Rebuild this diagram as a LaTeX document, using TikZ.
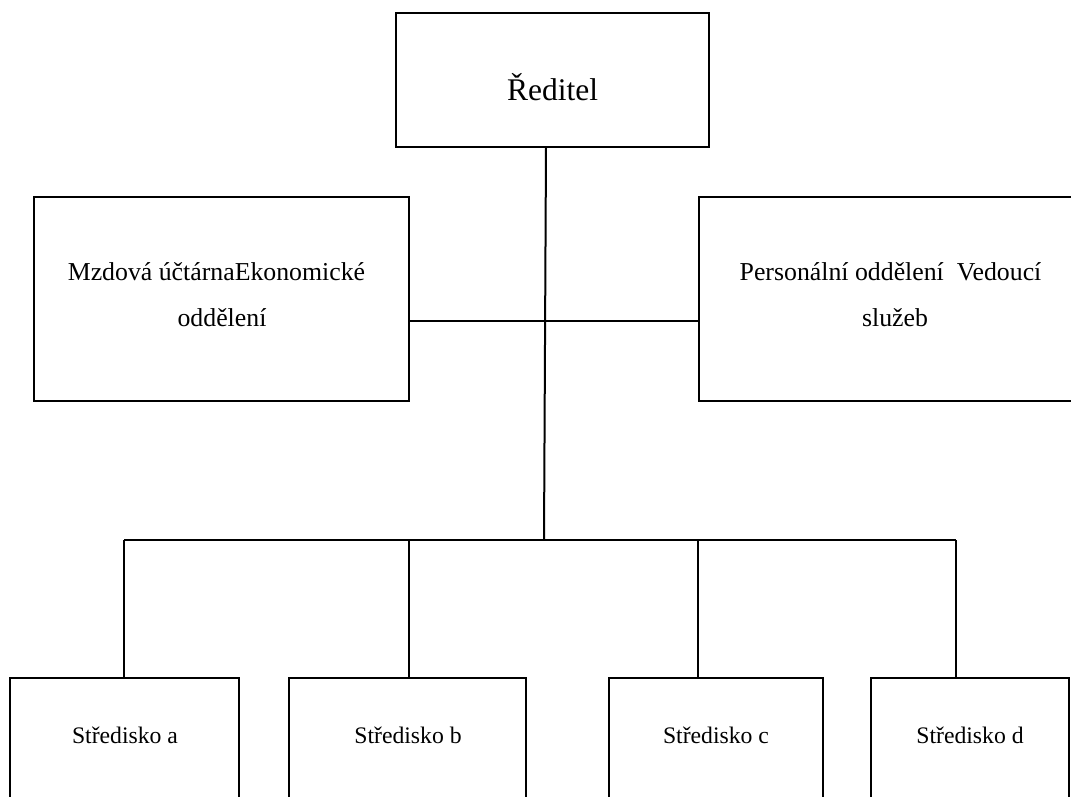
\documentclass[tikz,border=0pt]{standalone}
\usepackage{fontspec}
\setmainfont{Liberation Serif}
\begin{document}
\begin{tikzpicture}[x=1pt,y=-1pt,
  box/.style={draw=black, line width=2pt, fill=none, inner sep=0pt, outer sep=0pt},
  conn/.style={draw=black, line width=2pt},
  ftop/.style={font=\fontsize{31.5}{38}\selectfont, anchor=base, inner sep=0pt},
  fmid/.style={font=\fontsize{25.8}{31}\selectfont, anchor=base, inner sep=0pt},
  fbot/.style={font=\fontsize{23.7}{28}\selectfont, anchor=base, inner sep=0pt}]
\useasboundingbox (0,0) rectangle (1071,797);
\fill[white] (0,0) rectangle (1071,797);
% boxes
\node[box, minimum width=313pt, minimum height=134pt] (dir) at (552.5,80) {};
\node[box, minimum width=375pt, minimum height=204pt] (lb) at (221.5,299) {};
\node[box, minimum width=383pt, minimum height=204pt] (rb) at (890.5,299) {};
\node[box, minimum width=229pt, minimum height=152pt] (sa) at (124.5,754) {};
\node[box, minimum width=237pt, minimum height=152pt] (sb) at (407.5,754) {};
\node[box, minimum width=214pt, minimum height=152pt] (sc) at (716,754) {};
\node[box, minimum width=198pt, minimum height=152pt] (sd) at (970,754) {};
% texts
\node[ftop] (tdir) at (552.5,101) {Ředitel};
\node[fmid] (tl1) at (216.5,280.5) {Mzdová účtárnaEkonomické};
\node[fmid] (tl2) at (222,326.5) {oddělení};
\node[fmid] (tr1) at (890.5,280.5) {Personální oddělení\ \ Vedoucí};
\node[fmid] (tr2) at (895,326.5) {služeb};
\node[fbot] (ta) at (125,743) {Středisko a};
\node[fbot] (tb) at (408,743) {Středisko b};
\node[fbot] (tc) at (716,743) {Středisko c};
\node[fbot] (td) at (970,743) {Středisko d};
% connectors
\coordinate (dtop) at (546,147);
\coordinate (hub) at (544,540);
\coordinate (mid) at (545,321);
\coordinate (ba) at (124,540);
\coordinate (bb) at (409,540);
\coordinate (bc) at (698,540);
\coordinate (bd) at (956,540);
\draw[conn] (dtop) -- (hub);
\draw[conn] (lb.east |- mid) -- (rb.west |- mid);
\draw[conn] (ba) -- (bd);
\draw[conn] (ba) -- (ba |- sa.north);
\draw[conn] (bb) -- (bb |- sb.north);
\draw[conn] (bc) -- (bc |- sc.north);
\draw[conn] (bd) -- (bd |- sd.north);
\end{tikzpicture}
\end{document}
